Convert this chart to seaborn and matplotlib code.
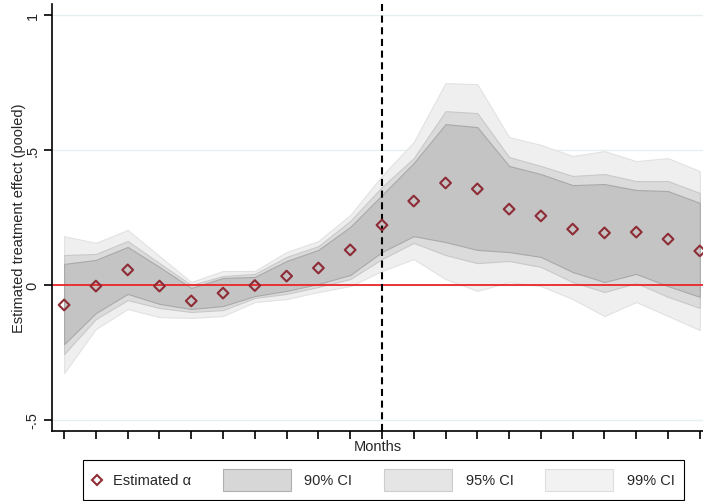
import seaborn as sns
import matplotlib.pyplot as plt
from matplotlib.lines import Line2D
from matplotlib.patches import Rectangle
from matplotlib.offsetbox import DrawingArea, TextArea, HPacker, AnchoredOffsetbox

# event time index (21 months), treatment month at index 10
months = list(range(21))
event_month = 10

# point estimates
alpha_hat = [-0.074, -0.004, 0.056, -0.004, -0.059, -0.030, -0.002, 0.033, 0.063, 0.130,
             0.222, 0.311, 0.378, 0.356, 0.281, 0.256, 0.207, 0.193, 0.196, 0.170, 0.126]

# confidence bands
ci90_lo = [-0.219, -0.104, -0.033, -0.070, -0.089, -0.078, -0.041, -0.022, 0.004, 0.037,
           0.122, 0.181, 0.159, 0.130, 0.122, 0.104, 0.048, 0.011, 0.041, -0.004, -0.044]
ci90_hi = [0.078, 0.093, 0.141, 0.067, -0.011, 0.026, 0.030, 0.089, 0.130, 0.215,
           0.333, 0.452, 0.596, 0.585, 0.441, 0.411, 0.370, 0.374, 0.352, 0.348, 0.304]
ci95_lo = [-0.256, -0.126, -0.056, -0.085, -0.100, -0.093, -0.048, -0.033, -0.007, 0.022,
           0.096, 0.156, 0.111, 0.081, 0.089, 0.067, 0.011, -0.026, 0.007, -0.044, -0.085]
ci95_hi = [0.111, 0.115, 0.163, 0.081, 0.000, 0.033, 0.041, 0.104, 0.144, 0.237,
           0.363, 0.470, 0.644, 0.637, 0.474, 0.441, 0.404, 0.411, 0.385, 0.385, 0.341]
ci99_lo = [-0.326, -0.163, -0.089, -0.119, -0.122, -0.115, -0.063, -0.052, -0.026, -0.004,
           0.052, 0.096, 0.022, -0.022, 0.011, -0.004, -0.052, -0.115, -0.063, -0.115, -0.167]
ci99_hi = [0.181, 0.156, 0.204, 0.107, 0.011, 0.052, 0.052, 0.122, 0.163, 0.259,
           0.404, 0.530, 0.748, 0.744, 0.548, 0.519, 0.478, 0.496, 0.459, 0.470, 0.422]

yticks = [-0.5, 0, 0.5, 1]
ytick_labels = ['-.5', '0', '.5', '1']

maroon = '#8e2c36'
fs = 10.5

sns.set_style("white")
plt.rcParams['font.family'] = ['Liberation Sans', 'DejaVu Sans']

fig = plt.figure(figsize=(7.03, 5.02), dpi=100)
ax = fig.add_axes([0.074, 0.1394, 0.926, 0.8506])

# grid first so the bands sit on top
ax.set_yticks(yticks)
ax.yaxis.grid(True, color='#e6eef0', lw=1.0, zorder=0)
ax.set_axisbelow(True)

# bands, widest first
bands = [(ci99_lo, ci99_hi, '#efefef', '#e2e2e2'),
         (ci95_lo, ci95_hi, '#dcdbdb', '#c9c9c9'),
         (ci90_lo, ci90_hi, '#c4c4c4', '#a9a9a9')]
for lo, hi, fill, edge in bands:
    ax.fill_between(months, lo, hi, facecolor=fill, edgecolor=edge, lw=0.8, zorder=1)

ax.axhline(0, color='#e8262b', lw=1.3, zorder=2)
ax.axvline(event_month, color='black', lw=1.5, ls=(0, (3.4, 2.2)), zorder=2)

sns.scatterplot(x=months, y=alpha_hat, marker='D', s=30, facecolor='none',
                edgecolor=maroon, linewidth=1.5, ax=ax, zorder=3, clip_on=False)

ax.set_xlim(-0.38, 20.1)
ax.set_ylim(-0.541, 1.041)
ax.set_xticks(months)
ax.set_xticklabels([])
ax.set_yticklabels(ytick_labels, rotation=90, va='center')
ax.tick_params(axis='both', direction='out', length=6, width=1.2, color='black',
               labelsize=fs, pad=3, bottom=True, left=True)

sns.despine(ax=ax)
for side in ['left', 'bottom']:
    ax.spines[side].set_color('black')
    ax.spines[side].set_linewidth(1.2)

ax.set_xlabel('Months', fontsize=fs, labelpad=-3)
ax.set_ylabel('Estimated treatment effect (pooled)', fontsize=fs, labelpad=0)

# legend laid out as in the source: small marker key, wide band keys
def marker_key():
    da = DrawingArea(7, 15, 0, 0)
    da.add_artist(Line2D([3.5], [7.5], marker='D', ls='none', mfc='none',
                         mec=maroon, mew=1.5, ms=5.5))
    return da

def band_key(fill, edge):
    da = DrawingArea(49, 15.5, 0, 0)
    da.add_artist(Rectangle((0, 0), 49, 15.5, facecolor=fill, edgecolor=edge, lw=0.8))
    return da

def label(s):
    return TextArea(s, textprops=dict(fontsize=fs))

entries = [HPacker(children=[marker_key(), label('Estimated \u03b1')], sep=8, align='center'),
           HPacker(children=[band_key('#d7d7d7', '#b0b0b0'), label('90% CI')], sep=10, align='center'),
           HPacker(children=[band_key('#e5e5e5', '#cccccc'), label('95% CI')], sep=10, align='center'),
           HPacker(children=[band_key('#f2f2f2', '#dedede'), label('99% CI')], sep=10, align='center')]
row = HPacker(children=entries, sep=22.5, align='center', pad=0)
box = AnchoredOffsetbox(loc='center', child=row, pad=0.62, borderpad=0, frameon=True,
                        bbox_to_anchor=(0.5455, 0.0418), bbox_transform=fig.transFigure,
                        prop=dict(size=fs))
box.patch.set_boxstyle('square', pad=0)
box.patch.set_edgecolor('black')
box.patch.set_linewidth(0.8)
fig.add_artist(box)

fig.savefig('out.png', dpi=100)
